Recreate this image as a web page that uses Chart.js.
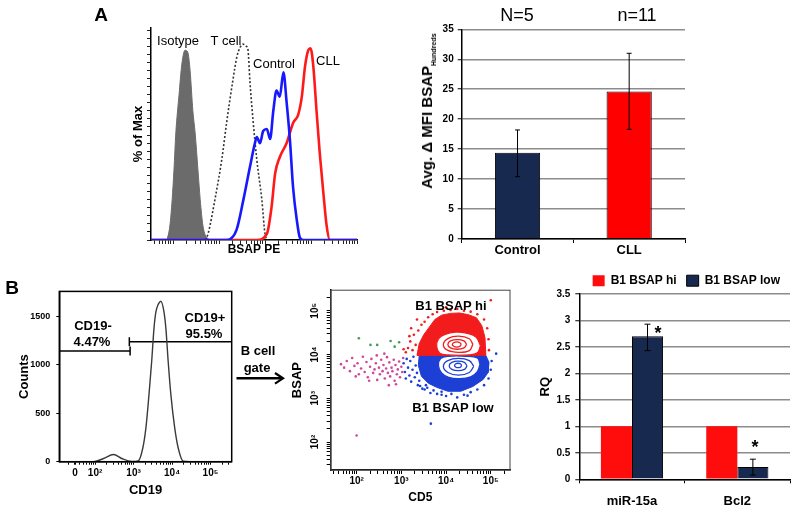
<!DOCTYPE html>
<html>
<head>
<meta charset="utf-8">
<script src="https://cdn.jsdelivr.net/npm/chart.js@4.4.1/dist/chart.umd.min.js"></script>
<style>
  html, body { margin: 0; padding: 0; background: #fff; }
  #page { position: relative; width: 800px; height: 517px; overflow: hidden; font-family: "Liberation Sans", Arial, sans-serif; color: #000; }
  canvas { position: absolute; }
  .t { position: absolute; transform: translate(-50%, -50%); line-height: 1; white-space: nowrap; }
  .b { font-weight: bold; }
</style>
</head>
<body>
<div id="page">
  <canvas id="histA" width="265" height="262" style="left:100px;top:0px"></canvas>
  <canvas id="barA" width="320" height="262" style="left:380px;top:0px"></canvas>
  <canvas id="histB" width="240" height="237" style="left:0px;top:280px"></canvas>
  <canvas id="dotB" width="230" height="237" style="left:290px;top:280px"></canvas>
  <canvas id="barB" width="280" height="255" style="left:520px;top:262px"></canvas>

  <div class="t b" style="left:101px;top:14px;font-size:19px">A</div>
  <div class="t b" style="left:12px;top:287px;font-size:19px">B</div>

  <div class="t" style="left:178px;top:40px;font-size:13px">Isotype</div>
  <div class="t" style="left:226px;top:40px;font-size:13px">T cell</div>
  <div class="t" style="left:274px;top:63px;font-size:13px">Control</div>
  <div class="t" style="left:328px;top:60px;font-size:13px">CLL</div>

  <div class="t" style="left:517px;top:15px;font-size:18px">N=5</div>
  <div class="t" style="left:637px;top:15px;font-size:18px">n=11</div>
  <div class="t b" style="left:428px;top:111px;font-size:15px;transform:translate(-50%,-50%) rotate(-90deg)">Avg. Δ MFI BSAP<sub style="font-size:7px">Hundreds</sub></div>

  <div class="t b" style="left:93px;top:325px;font-size:13px">CD19-</div>
  <div class="t b" style="left:92px;top:341px;font-size:13px">4.47%</div>
  <div class="t b" style="left:205px;top:317px;font-size:13px">CD19+</div>
  <div class="t b" style="left:204px;top:333px;font-size:13px">95.5%</div>

  <div class="t b" style="left:258px;top:350px;font-size:13px">B cell</div>
  <div class="t b" style="left:257px;top:367px;font-size:13px">gate</div>
  <svg style="position:absolute;left:230px;top:370px" width="60" height="17">
    <line x1="6.5" y1="8.3" x2="52" y2="8.3" stroke="#000" stroke-width="2.5"/>
    <path d="M45,3 L53,8.3 L45,13.6" fill="none" stroke="#000" stroke-width="2.2"/>
  </svg>

  <div class="t b" style="left:451px;top:305px;font-size:13px">B1 BSAP hi</div>
  <div class="t b" style="left:453px;top:407px;font-size:13px">B1 BSAP low</div>

  <div class="t b" style="left:658px;top:333px;font-size:18px">*</div>
  <div class="t b" style="left:755px;top:447px;font-size:18px">*</div>
</div>

<script>
// Panel A, histogram: x in decades of BSAP PE, y in % of max
const isoX = [0.87, 0.93, 0.98, 1.02, 1.06, 1.13, 1.19, 1.26, 1.32, 1.37, 1.43, 1.48, 1.54, 1.59, 1.65, 1.74, 1.85];
const isoY = [0, 7, 20, 35, 53, 72, 87, 94, 93, 84, 64, 53, 35, 20, 7, 1, 0];
const tcellX = [1.70, 1.76, 1.91, 2.06, 2.17, 2.30, 2.39, 2.45, 2.52, 2.59, 2.63, 2.67, 2.74, 2.82, 2.93, 3.00, 3.06];
const tcellY = [0, 3, 20, 40, 59, 79, 91, 95, 97, 96, 94, 79, 59, 40, 20, 3, 0];
const ctrlX = [0.52, 2.17, 2.38, 2.53, 2.67, 2.78, 2.82, 2.89, 2.96, 3.04, 3.11, 3.18, 3.25, 3.32, 3.40, 3.47, 3.54, 3.61, 3.69, 3.76, 3.83, 5.00];
const ctrlY = [0, 0, 5, 20, 36, 48, 51, 48, 54, 55, 50, 64, 74, 71, 83, 68, 50, 26, 10, 1, 0, 0];
const cllX = [0.52, 2.82, 3.04, 3.14, 3.22, 3.32, 3.47, 3.61, 3.72, 3.80, 3.87, 3.94, 3.99, 4.05, 4.12, 4.19, 4.27, 4.34, 4.41, 5.00];
const cllY = [0, 0, 3, 16, 33, 41, 48, 58, 62, 71, 86, 94, 95, 86, 64, 43, 23, 7, 0, 0];

// Panel A, bars (hundreds)
const groupsA = ['Control', 'CLL'];
const avgMfi = [14.4, 24.6];
const avgMfiLow = [10.4, 18.3];
const avgMfiHigh = [18.2, 31.0];

// Panel B, CD19 histogram: x in decades (0 sits at 1.48 on the biexponential axis)
const cd19X = [1.07, 1.90, 2.00, 2.22, 2.48, 2.69, 2.95, 3.12, 3.24, 3.32, 3.40, 3.47, 3.53, 3.58, 3.64, 3.71, 3.79, 3.84, 3.90, 3.97, 4.07, 4.16, 4.29, 4.45, 5.55];
const cd19Counts = [0, 0, 2, 33, 74, 33, 2, 8, 141, 346, 688, 1030, 1371, 1542, 1620, 1652, 1542, 1371, 1030, 688, 346, 141, 5, 0, 0];
const countTicks = [0, 500, 1000, 1500];
const gateNegX = [1.07, 2.91];
const gateNegY = [1139, 1139];
const gatePosX = [2.89, 5.55];
const gatePosY = [1235, 1235];

// Panel B, CD5 vs BSAP (decades)
const redZone = [[3.35,3.98],[3.40,4.25],[3.50,4.45],[3.62,4.62],[3.75,4.80],[3.90,4.90],[4.10,4.94],[4.30,4.95],[4.50,4.91],[4.68,4.84],[4.80,4.66],[4.87,4.39],[4.89,3.98],[3.35,3.98]];
const blueZone = [[3.40,3.98],[4.89,3.98],[4.96,3.82],[4.94,3.59],[4.83,3.43],[4.60,3.27],[4.33,3.16],[4.04,3.16],[3.79,3.25],[3.61,3.34],[3.45,3.50],[3.38,3.75],[3.40,3.98]];
const redRing1 = [[4.77,4.20],[4.67,4.40],[4.45,4.49],[4.20,4.51],[3.98,4.46],[3.83,4.36],[3.79,4.18],[3.86,4.03],[4.05,3.99],[4.50,3.99],[4.70,4.04],[4.77,4.20]];
const redRing2 = [[4.60,4.23],[4.52,4.36],[4.28,4.42],[4.05,4.37],[3.94,4.23],[4.03,4.10],[4.28,4.05],[4.52,4.09],[4.60,4.23]];
const redRing3 = [[4.46,4.23],[4.40,4.31],[4.25,4.34],[4.10,4.31],[4.04,4.23],[4.10,4.15],[4.25,4.12],[4.40,4.15],[4.46,4.23]];
const redRing4 = [[4.34,4.23],[4.31,4.27],[4.24,4.29],[4.17,4.27],[4.14,4.23],[4.17,4.19],[4.24,4.17],[4.31,4.19],[4.34,4.23]];
const blueRing1 = [[4.76,3.78],[4.70,3.92],[4.45,3.96],[4.05,3.96],[3.88,3.91],[3.83,3.75],[3.90,3.58],[4.06,3.48],[4.30,3.45],[4.55,3.49],[4.70,3.61],[4.76,3.78]];
const blueRing2 = [[4.62,3.73],[4.52,3.86],[4.28,3.91],[4.04,3.86],[3.94,3.73],[4.04,3.59],[4.28,3.53],[4.52,3.59],[4.62,3.73]];
const blueRing3 = [[4.47,3.74],[4.41,3.82],[4.27,3.85],[4.13,3.82],[4.07,3.74],[4.13,3.66],[4.27,3.63],[4.41,3.66],[4.47,3.74]];
const blueRing4 = [[4.35,3.75],[4.32,3.79],[4.27,3.80],[4.22,3.79],[4.19,3.75],[4.22,3.71],[4.27,3.70],[4.32,3.71],[4.35,3.75]];
const pinkDots = [[1.65,3.78],[1.72,3.70],[1.78,3.85],[1.85,3.62],[1.90,3.92],[1.95,3.74],[2.02,3.80],[2.05,3.55],[2.10,3.68],[2.14,3.95],[2.18,3.60],[2.22,3.83],[2.25,3.48],[2.30,3.72],[2.33,3.90],[2.37,3.58],[2.40,3.66],[2.43,3.80],[2.46,3.42],[2.50,3.70],[2.52,3.55],[2.55,3.88],[2.58,3.62],[2.60,3.76],[2.63,3.45],[2.66,3.68],[2.68,3.94],[2.70,3.58],[2.73,3.82],[2.75,3.50],[2.78,3.70],[2.80,3.62],[2.83,3.88],[2.85,3.40],[2.87,3.76],[2.90,3.55],[2.92,3.66],[2.95,3.84],[2.97,3.48],[3.00,3.72],[3.02,3.60],[3.04,3.92],[2.62,4.02],[2.45,3.98],[2.88,3.32],[2.72,3.30],[2.00,2.15],[1.98,3.50],[2.28,3.40]];
const blueDots = [[3.05,3.80],[3.08,3.60],[3.10,3.45],[3.12,3.90],[3.15,3.70],[3.18,3.52],[3.20,3.85],[3.22,3.38],[3.25,3.65],[3.27,3.95],[3.30,3.48],[3.32,3.75],[3.35,3.58],[3.37,3.30],[3.40,3.40],[3.42,3.28],[3.47,3.22],[3.52,3.20],[3.58,3.24],[3.65,3.12],[3.72,3.18],[3.80,3.10],[3.90,3.08],[4.00,3.05],[4.12,3.10],[4.25,3.02],[4.40,3.08],[4.55,3.14],[4.70,3.20],[4.85,3.30],[4.95,3.45],[5.00,3.65],[5.02,3.85],[3.66,2.42],[5.12,4.02],[3.90,3.15],[4.48,3.06],[3.55,3.30]];
const redDots = [[3.10,4.05],[3.15,4.15],[3.20,4.30],[3.25,4.10],[3.28,4.45],[3.32,4.22],[3.38,4.55],[3.45,4.68],[3.52,4.75],[3.60,4.85],[3.70,4.92],[3.80,4.97],[3.95,5.00],[4.10,5.02],[4.25,5.04],[4.40,5.00],[4.55,4.98],[4.70,4.92],[4.85,4.80],[4.92,4.60],[4.95,4.35],[4.96,4.10],[3.18,4.42],[3.05,4.12],[3.22,4.60],[5.00,5.24],[3.35,4.80],[4.00,5.08]];
const greenDots = [[2.05,4.37],[2.31,4.22],[2.46,4.22],[2.76,4.31],[2.85,4.18],[2.95,4.28]];

// Panel B, qPCR
const genes = ['miR-15a', 'Bcl2'];
const rqHi = [1, 1];
const rqLow = [2.7, 0.23];
const rqLowErrLo = [2.43, 0.08];
const rqLowErrHi = [2.93, 0.38];

const decadeLabels = {2: '10²', 3: '10³', 4: '10⁴', 5: '10⁵'};
const zeroPos = 1.48;

Chart.defaults.font.family = '"Liberation Sans", Arial, sans-serif';
Chart.defaults.color = '#000';

function pts(xs, ys) { return xs.map(function (x, i) { return {x: x, y: ys[i]}; }); }
function pairs(list) { return list.map(function (p) { return {x: p[0], y: p[1]}; }); }

// minor/major log tick positions inside [min, max], in decade units
function logTicks(min, max) {
  const out = [];
  for (let d = Math.floor(min); d <= Math.ceil(max); d++) {
    for (let k = 1; k <= 9; k++) {
      const v = d + Math.log10(k);
      if (v >= min - 1e-9 && v <= max + 1e-9) out.push({value: v});
    }
  }
  return out;
}

const errorBars = {
  id: 'errorBars',
  afterDatasetsDraw(chart, args, opts) {
    const ctx = chart.ctx, y = chart.scales.y;
    (opts.sets || []).forEach(function (s) {
      const meta = chart.getDatasetMeta(s.dataset);
      s.low.forEach(function (lo, i) {
        const x = meta.data[i].x;
        const y1 = y.getPixelForValue(lo), y2 = y.getPixelForValue(s.high[i]);
        ctx.save();
        ctx.strokeStyle = '#000';
        ctx.lineWidth = 1;
        ctx.beginPath();
        ctx.moveTo(x, y1); ctx.lineTo(x, y2);
        ctx.moveTo(x - opts.cap, y1); ctx.lineTo(x + opts.cap, y1);
        ctx.moveTo(x - opts.cap, y2); ctx.lineTo(x + opts.cap, y2);
        ctx.stroke();
        ctx.restore();
      });
    });
  }
};

const frame = {
  id: 'frame',
  afterDraw(chart, args, opts) {
    const a = chart.chartArea, ctx = chart.ctx;
    ctx.save();
    ctx.strokeStyle = opts.color || '#000';
    ctx.lineWidth = opts.width || 1;
    ctx.strokeRect(a.left, a.top, a.right - a.left, a.bottom - a.top);
    ctx.restore();
  }
};

const rotYLabels = {
  id: 'rotYLabels',
  afterDraw(chart, args, opts) {
    const ctx = chart.ctx, y = chart.scales.y, x = chart.chartArea.left + opts.dx;
    ctx.save();
    ctx.font = opts.font;
    ctx.fillStyle = '#000';
    ctx.textAlign = 'center';
    ctx.textBaseline = 'middle';
    Object.keys(decadeLabels).forEach(function (d) {
      ctx.save();
      ctx.translate(x, y.getPixelForValue(+d));
      ctx.rotate(-Math.PI / 2);
      ctx.fillText(decadeLabels[d], 0, 0);
      ctx.restore();
    });
    ctx.restore();
  }
};

const common = {
  responsive: false,
  animation: false,
  devicePixelRatio: 1,
  events: []
};

// ---------- A: BSAP histogram overlay
new Chart(document.getElementById('histA'), {
  type: 'line',
  data: {
    datasets: [
      {label: 'Control', data: pts(ctrlX, ctrlY), borderColor: '#1818ff', borderWidth: 2.6, pointRadius: 0, fill: false, cubicInterpolationMode: 'monotone'},
      {label: 'CLL', data: pts(cllX, cllY), borderColor: '#ff1a1a', borderWidth: 2.6, pointRadius: 0, fill: false, cubicInterpolationMode: 'monotone'},
      {label: 'T cell', data: pts(tcellX, tcellY), borderColor: '#333', borderWidth: 1.6, borderDash: [2, 2], pointRadius: 0, fill: false, cubicInterpolationMode: 'monotone'},
      {label: 'Isotype', data: pts(isoX, isoY), borderColor: '#6b6b6b', backgroundColor: '#6b6b6b', borderWidth: 1, pointRadius: 0, fill: 'origin', cubicInterpolationMode: 'monotone'}
    ]
  },
  options: Object.assign({}, common, {
    layout: {padding: {top: 28, right: 8, left: 0, bottom: 0}},
    plugins: {legend: {display: false}, tooltip: {enabled: false}},
    scales: {
      x: {
        type: 'linear', min: 0.52, max: 5.0,
        afterBuildTicks: function (s) { s.ticks = logTicks(0.52, 5.0); },
        afterFit: function (s) { s.height = 22; },
        ticks: {autoSkip: false, maxRotation: 0, callback: function () { return ''; }},
        grid: {drawOnChartArea: false, tickLength: 4, color: '#222'},
        border: {color: '#000', width: 1.5},
        title: {display: true, text: 'BSAP PE', font: {weight: 'bold', size: 12}, padding: {top: 0, bottom: 5}}
      },
      y: {
        min: 0, max: 105,
        afterBuildTicks: function (s) { const t = []; for (let v = 0; v <= 104; v += 4) t.push({value: v}); s.ticks = t; },
        afterFit: function (s) { s.width = 51; },
        ticks: {autoSkip: false, callback: function () { return ''; }},
        grid: {drawOnChartArea: false, tickLength: 4, color: '#222'},
        border: {color: '#000', width: 1.5},
        title: {display: true, text: '% of Max', font: {weight: 'bold', size: 13}, padding: {top: 31, bottom: 0}}
      }
    }
  })
});

// ---------- A: mean bars
new Chart(document.getElementById('barA'), {
  type: 'bar',
  data: {
    labels: groupsA,
    datasets: [{data: avgMfi, backgroundColor: ['#18294f', '#ff0000'], borderColor: '#000', borderWidth: 1, barPercentage: 0.405, categoryPercentage: 1}]
  },
  options: Object.assign({}, common, {
    layout: {padding: {top: 29.3, right: 15, left: 0, bottom: 0}},
    plugins: {legend: {display: false}, tooltip: {enabled: false}, errorBars: {cap: 2.5, sets: [{dataset: 0, low: avgMfiLow, high: avgMfiHigh}]}},
    scales: {
      x: {
        afterFit: function (s) { s.height = 23; },
        grid: {drawOnChartArea: false, tickLength: 4, color: '#000', offset: true},
        border: {color: '#000', width: 1.5},
        ticks: {font: {weight: 'bold', size: 13}, padding: 0}
      },
      y: {
        min: 0, max: 35,
        afterFit: function (s) { s.width = 81.7; },
        ticks: {stepSize: 5, font: {weight: 'bold', size: 10}, padding: 4},
        grid: {color: '#8c8c8c', lineWidth: 1.5, tickLength: 4, tickColor: '#000', tickWidth: 1},
        border: {color: '#000', width: 1.5}
      }
    }
  }),
  plugins: [errorBars]
});

// ---------- B: CD19 histogram with gates
new Chart(document.getElementById('histB'), {
  type: 'line',
  data: {
    datasets: [
      {data: pts(cd19X, cd19Counts), borderColor: '#3a3a3a', borderWidth: 1.4, pointRadius: 0, fill: false, cubicInterpolationMode: 'monotone'},
      {data: pts(gateNegX, gateNegY), borderColor: '#000', borderWidth: 1.5, pointStyle: 'line', rotation: 90, pointRadius: [0, 4.5], pointBorderWidth: 1.5, pointBorderColor: '#000'},
      {data: pts(gatePosX, gatePosY), borderColor: '#000', borderWidth: 1.5, pointStyle: 'line', rotation: 90, pointRadius: [4.5, 0], pointBorderWidth: 1.5, pointBorderColor: '#000'}
    ]
  },
  options: Object.assign({}, common, {
    layout: {padding: {top: 9.3, right: 8.3, left: 0, bottom: 0}},
    plugins: {legend: {display: false}, tooltip: {enabled: false}, frame: {color: '#000', width: 1.5}},
    scales: {
      x: {
        type: 'linear', min: 1.07, max: 5.55,
        afterBuildTicks: function (s) { s.ticks = logTicks(1.07, 5.55).concat([{value: zeroPos}]).sort(function (a, b) { return a.value - b.value; }); },
        afterFit: function (s) { s.height = 55.3; },
        ticks: {autoSkip: false, maxRotation: 0, font: {weight: 'bold', size: 10}, padding: 3,
          callback: function (v) { return v === zeroPos ? '0' : (decadeLabels[v] || ''); }},
        grid: {drawOnChartArea: false, tickLength: 3, color: '#000'},
        border: {color: '#000', width: 1.5},
        title: {display: true, text: 'CD19', font: {weight: 'bold', size: 13}, padding: {top: 0, bottom: 19}}
      },
      y: {
        min: 0, max: 1754,
        afterBuildTicks: function (s) { s.ticks = countTicks.map(function (v) { return {value: v}; }); },
        afterFit: function (s) { s.width = 59.3; },
        ticks: {autoSkip: false, font: {weight: 'bold', size: 9}, padding: 6,
          callback: function (v) { return String(v); }},
        grid: {drawOnChartArea: false, tickLength: 3, color: '#000'},
        border: {color: '#000', width: 1.5},
        title: {display: true, text: 'Counts', font: {weight: 'bold', size: 13}, padding: {top: 17, bottom: 0}}
      }
    }
  }),
  plugins: [frame]
});

// ---------- B: CD5 / BSAP dot plot with contours
function zone(list, color, order) {
  return {data: pairs(list), showLine: true, fill: 'shape', backgroundColor: color, borderColor: color, borderWidth: 1, pointRadius: 0, order: order};
}
function ring(list, color, order, fillColor) {
  return {data: pairs(list), showLine: true, fill: fillColor ? 'shape' : false, backgroundColor: fillColor || 'transparent',
    borderColor: color, borderWidth: 1.3, pointRadius: 0, tension: 0.4, order: order};
}
function dots(list, color, order) {
  return {data: pairs(list), backgroundColor: color, borderWidth: 0, pointRadius: 1.3, order: order};
}
const red = '#f21c1c', blue = '#1d3fd6';
new Chart(document.getElementById('dotB'), {
  type: 'scatter',
  data: {
    datasets: [
      zone(redZone, red, 10),
      zone(blueZone, blue, 10),
      dots(pinkDots, '#d2479c', 9),
      dots(blueDots, blue, 9),
      dots(redDots, red, 9),
      dots(greenDots, '#3f9a55', 9),
      ring(redRing1, red, 5, '#ffffff'),
      ring(redRing2, red, 4),
      ring(redRing3, red, 4),
      ring(redRing4, red, 4),
      ring(blueRing1, blue, 5, '#ffffff'),
      ring(blueRing2, blue, 4),
      ring(blueRing3, blue, 4),
      ring(blueRing4, blue, 4)
    ]
  },
  options: Object.assign({}, common, {
    layout: {padding: {top: 9.3, right: 10, left: 0, bottom: 0}},
    plugins: {legend: {display: false}, tooltip: {enabled: false}, frame: {color: '#444', width: 1},
      rotYLabels: {dx: -15.7, font: 'bold 10px "Liberation Sans", Arial, sans-serif'}},
    scales: {
      x: {
        type: 'linear', min: 1.42, max: 5.43,
        afterBuildTicks: function (s) { s.ticks = logTicks(1.42, 5.43); },
        afterFit: function (s) { s.height = 47; },
        ticks: {autoSkip: false, maxRotation: 0, font: {weight: 'bold', size: 10}, padding: 1,
          callback: function (v) { return decadeLabels[v] || ''; }},
        grid: {drawOnChartArea: false, tickLength: 4, color: '#000'},
        border: {color: '#000', width: 1.5},
        title: {display: true, text: 'CD5', font: {weight: 'bold', size: 12}, padding: {top: 0, bottom: 12}}
      },
      y: {
        type: 'linear', min: 1.36, max: 5.47,
        afterBuildTicks: function (s) { s.ticks = logTicks(1.36, 5.47); },
        afterFit: function (s) { s.width = 40.7; },
        ticks: {autoSkip: false, callback: function () { return ''; }},
        grid: {drawOnChartArea: false, tickLength: 4, color: '#000'},
        border: {color: '#000', width: 1.5},
        title: {display: true, text: 'BSAP', font: {weight: 'bold', size: 13}, padding: {top: 0, bottom: 0}}
      }
    }
  }),
  plugins: [frame, rotYLabels]
});

// ---------- B: qPCR bars
new Chart(document.getElementById('barB'), {
  type: 'bar',
  data: {
    labels: genes,
    datasets: [
      {label: 'B1 BSAP hi', data: rqHi, backgroundColor: '#ff0d0d', borderColor: '#ff0d0d', borderWidth: 0},
      {label: 'B1 BSAP low', data: rqLow, backgroundColor: '#18294f', borderColor: '#000', borderWidth: 1}
    ]
  },
  options: Object.assign({}, common, {
    datasets: {bar: {categoryPercentage: 0.59, barPercentage: 1}},
    layout: {padding: {top: 2.7, right: 10, left: 0, bottom: 0}},
    plugins: {
      tooltip: {enabled: false},
      legend: {display: true, position: 'top', align: 'end', maxHeight: 29.3,
        labels: {boxWidth: 12, boxHeight: 11, padding: 10, font: {weight: 'bold', size: 12}, color: '#000'}},
      errorBars: {cap: 3, sets: [{dataset: 1, low: rqLowErrLo, high: rqLowErrHi}]}
    },
    scales: {
      x: {
        afterFit: function (s) { s.height = 37.7; },
        grid: {drawOnChartArea: false, tickLength: 4, color: '#000', offset: true},
        border: {color: '#000', width: 1.5},
        ticks: {font: {weight: 'bold', size: 13}, padding: 10.6}
      },
      y: {
        min: 0, max: 3.5,
        afterFit: function (s) { s.width = 59.3; },
        ticks: {stepSize: 0.5, font: {weight: 'bold', size: 10}, padding: 5, callback: function (v) { return String(v); }},
        grid: {color: '#8c8c8c', lineWidth: 1.5, tickLength: 4, tickColor: '#000', tickWidth: 1},
        border: {color: '#000', width: 1.5},
        title: {display: true, text: 'RQ', font: {weight: 'bold', size: 13}, padding: {top: 17.2, bottom: 0}}
      }
    }
  }),
  plugins: [errorBars]
});
</script>
</body>
</html>
